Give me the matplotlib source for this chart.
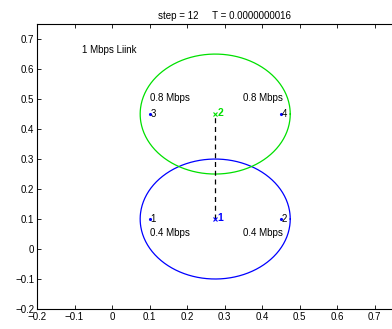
import numpy as np
import matplotlib

matplotlib.use("Agg")

import matplotlib.pyplot as plt

plt.rcParams["font.family"] = ["Liberation Sans", "DejaVu Sans"]

# cell centres / radii
cell_x = [0.275, 0.275]
cell_y = [0.1, 0.45]
cell_r = [0.2, 0.2]
cell_colors = ["blue", "#00e000"]
cell_ids = ["1", "2"]

# user nodes
node_x = [0.1, 0.45, 0.1, 0.45]
node_y = [0.1, 0.1, 0.45, 0.45]
node_ids = ["1", "2", "3", "4"]

rate_labels = ["0.4 Mbps", "0.4 Mbps", "0.8 Mbps", "0.8 Mbps"]
rate_x = [0.1, 0.35, 0.1, 0.35]
rate_y = [0.055, 0.055, 0.505, 0.505]

x_ticks = [-0.2, -0.1, 0, 0.1, 0.2, 0.3, 0.4, 0.5, 0.6, 0.7, 0.8]
x_tick_labels = ["\u22120.2", "\u22120.1", "0", "0.1", "0.2", "0.3", "0.4", "0.5", "0.6", "0.7", ""]
y_ticks = [-0.2, -0.1, 0, 0.1, 0.2, 0.3, 0.4, 0.5, 0.6, 0.7]
y_tick_labels = ["\u22120.2", "\u22120.1", "0", "0.1", "0.2", "0.3", "0.4", "0.5", "0.6", "0.7"]

fig = plt.figure(figsize=(3.92, 3.29), dpi=100)
ax = fig.add_axes([0.0944, 0.0608, 0.957, 0.866])

theta = np.linspace(0, 2 * np.pi, 400)
for cx, cy, r, c in zip(cell_x, cell_y, cell_r, cell_colors):
    ax.plot(cx + r * np.cos(theta), cy + r * np.sin(theta), color=c, linewidth=0.9)

# link between the two cell centres
ax.plot(cell_x, cell_y, color="black", linestyle="--", linewidth=0.9, dashes=(4, 3))

for cx, cy, c, lab in zip(cell_x, cell_y, cell_colors, cell_ids):
    ax.plot(cx, cy, marker="x", color=c, markersize=3.5, markeredgewidth=0.8)
    ax.text(cx + 0.007, cy + 0.005, lab, color=c, fontsize=7.5, fontweight="bold",
            va="center", ha="left")

for nx, ny, lab in zip(node_x, node_y, node_ids):
    ax.plot(nx, ny, marker=".", color="blue", markersize=2.5)
    ax.text(nx + 0.002, ny, lab, fontsize=7, va="center", ha="left")

for tx, ty, lab in zip(rate_x, rate_y, rate_labels):
    ax.text(tx, ty, lab, fontsize=7, va="center", ha="left")

ax.text(-0.08, 0.665, "1 Mbps Liink", fontsize=7, va="center", ha="left")

ax.set_xlim(-0.2, 0.8)
ax.set_ylim(-0.2, 0.75)
ax.set_xticks(x_ticks)
ax.set_xticklabels(x_tick_labels)
ax.set_yticks(y_ticks)
ax.set_yticklabels(y_tick_labels)
ax.tick_params(direction="in", top=True, right=True, labelsize=7, length=3, width=0.6, pad=2)
for s in ax.spines.values():
    s.set_linewidth(0.8)

ax.set_title("step = 12     T = 0.0000000016", fontsize=7, pad=4)

fig.savefig("out.png", dpi=100)
